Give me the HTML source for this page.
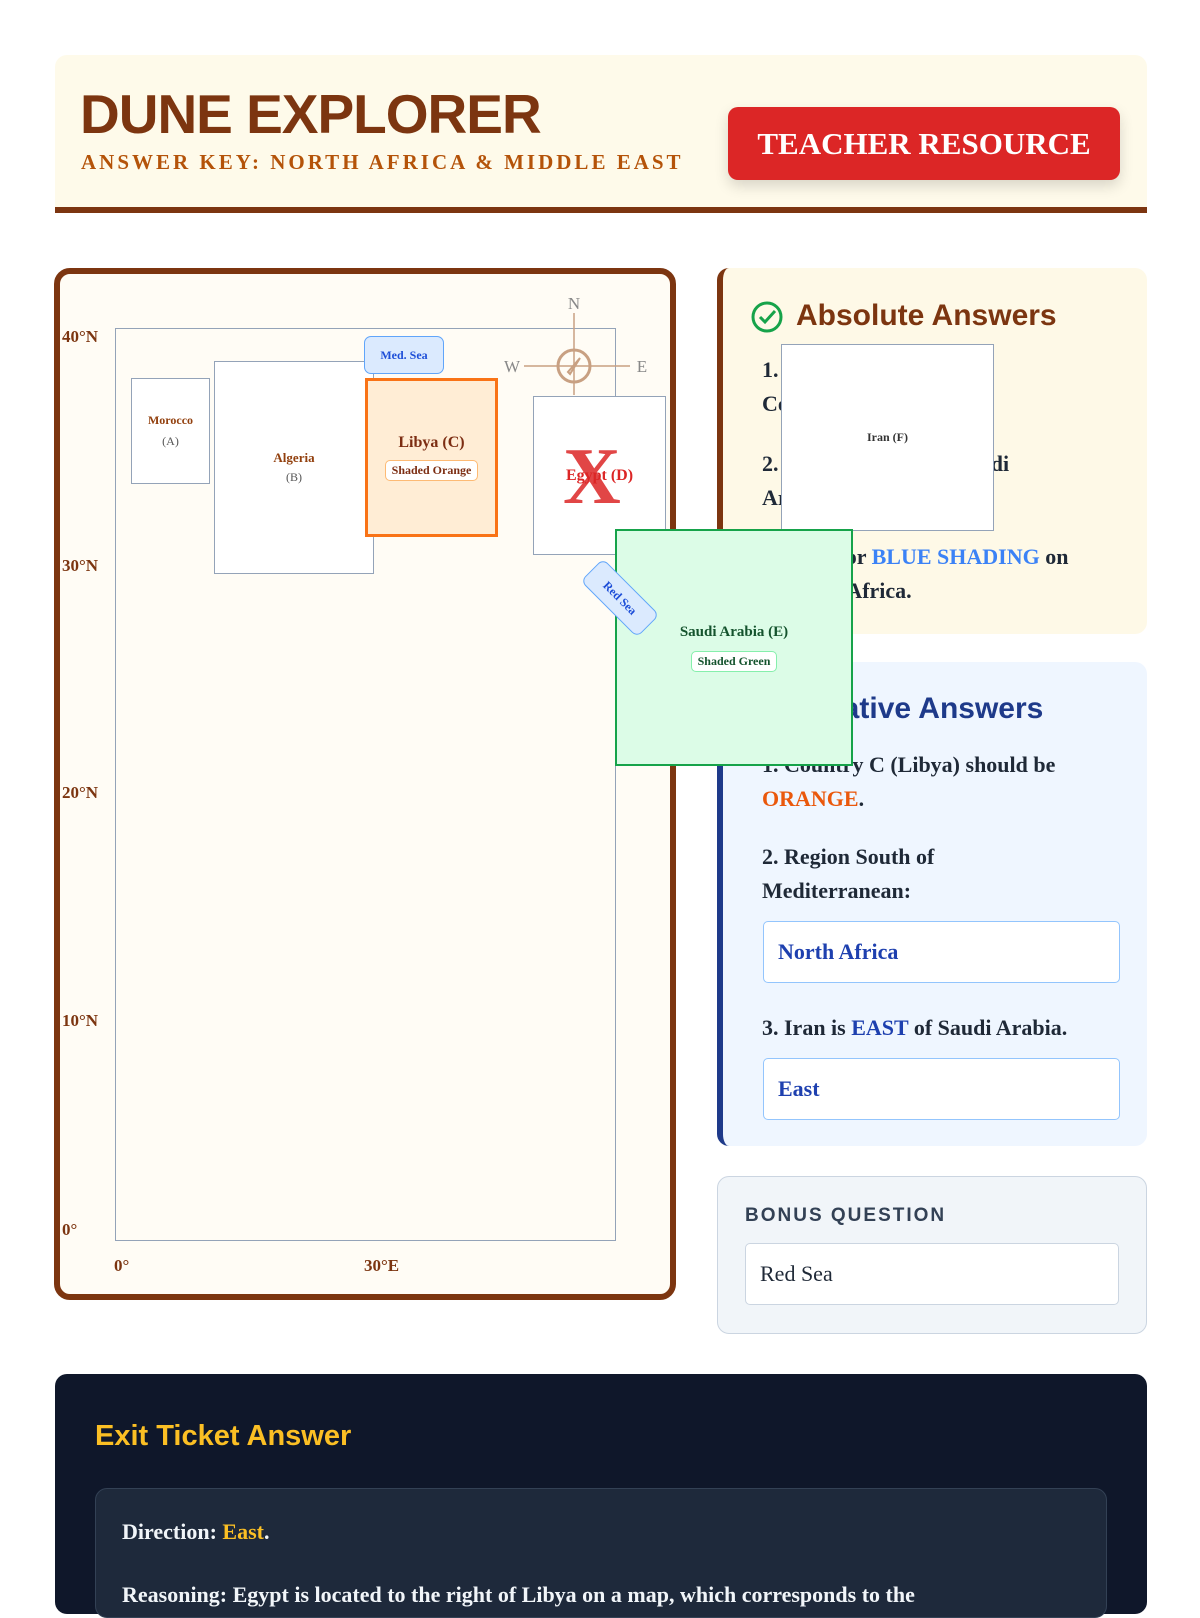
<!DOCTYPE html>
<html><head><meta charset="utf-8"><style>
*{box-sizing:border-box;margin:0;padding:0}
body{width:1200px;height:1600px;overflow:hidden;background:#fff;position:relative;font-family:"Liberation Serif",serif}
.a{position:absolute}
.sans{font-family:"Liberation Sans",sans-serif}
.box{position:absolute;border:1.5px solid #94a3b8;background:#fff;text-align:center;display:flex;flex-direction:column;justify-content:center;align-items:center}
.lat{position:absolute;left:62px;font-size:17px;font-weight:bold;color:#7c3510}
.item{position:absolute;left:762px;font-size:22px;font-weight:bold;color:#1f2937;line-height:34px;width:350px}
.inp{position:absolute;background:#fff;border:1.5px solid #93c5fd;border-radius:5px;font-size:22px;font-weight:bold;color:#1e40af;padding-left:14px;display:flex;align-items:center}
</style></head><body>
<div class="a" style="left:55px;top:55px;width:1092px;height:158px;background:#fefaea;border-radius:12px 12px 0 0;border-bottom:6px solid #7c3510"></div>
<div class="a sans" style="left:80px;top:82px;font-size:55px;font-weight:900;color:#7c3510;letter-spacing:-1px">DUNE EXPLORER</div>
<div class="a" style="left:81px;top:150px;font-size:21px;font-weight:bold;color:#b45309;letter-spacing:3px">ANSWER KEY: NORTH AFRICA &amp; MIDDLE EAST</div>
<div class="a" style="left:728px;top:107px;width:392px;height:73px;background:#dc2626;border-radius:10px;box-shadow:0 6px 14px rgba(0,0,0,.15);color:#fff;font-size:31px;font-weight:bold;display:flex;align-items:center;justify-content:center">TEACHER RESOURCE</div>

<div class="a" style="left:54px;top:268px;width:622px;height:1032px;border:6px solid #7c3510;border-radius:16px;background:#fffcf5"></div>
<div class="a" style="left:115px;top:328px;width:501px;height:913px;border:1.5px solid #94a3b8"></div>
<div class="lat" style="top:327px">40°N</div>
<div class="lat" style="top:556px">30°N</div>
<div class="lat" style="top:783px">20°N</div>
<div class="lat" style="top:1011px">10°N</div>
<div class="lat" style="top:1220px">0°</div>
<div class="lat" style="left:114px;top:1256px">0°</div>
<div class="lat" style="left:364px;top:1256px">30°E</div>

<div class="box" style="left:131px;top:378px;width:79px;height:106px;font-size:12px;color:#92400e;font-weight:bold">Morocco<span style="color:#555;font-weight:normal;margin-top:6px">(A)</span></div>
<div class="box" style="left:214px;top:361px;width:160px;height:213px;font-size:13px;color:#92400e;font-weight:bold">Algeria<span style="color:#555;font-weight:normal;margin-top:4px;font-size:12px">(B)</span></div>
<div class="box" style="left:365px;top:378px;width:133px;height:159px;border:3px solid #f97316;background:#ffedd5;font-size:16px;font-weight:bold;color:#7c2d12">Libya (C)<span style="margin-top:8px;font-size:12px;background:#fff;border:1px solid #fdba74;border-radius:5px;padding:2px 6px;color:#7c2d12">Shaded Orange</span></div>
<div class="a" style="left:364px;top:336px;width:80px;height:38px;background:#dbeafe;border:1.5px solid #60a5fa;border-radius:7px;color:#1d4ed8;font-size:12px;font-weight:bold;display:flex;align-items:center;justify-content:center">Med. Sea</div>
<div class="box" style="left:533px;top:396px;width:133px;height:159px;font-size:16px;font-weight:bold;color:#dc2626">Egypt (D)</div>
<div class="a" style="left:563px;top:432px;font-size:80px;font-weight:bold;color:#dc2626;opacity:.85;line-height:90px">X</div>
<svg class="a" style="left:500px;top:295px" width="160" height="120">
<line x1="74" y1="18" x2="74" y2="100" stroke="#c8a082" stroke-width="1.5"/>
<line x1="24" y1="71" x2="130" y2="71" stroke="#c8a082" stroke-width="1.5"/>
<circle cx="74" cy="71" r="16" fill="none" stroke="#c8a082" stroke-width="3"/>
<path d="M80 63 L70 79 L68 77 Z" fill="none" stroke="#c8a082" stroke-width="2"/>
<text x="74" y="14" font-size="17" fill="#888" text-anchor="middle" font-family="Liberation Serif">N</text>
<text x="12" y="77" font-size="17" fill="#888" text-anchor="middle" font-family="Liberation Serif">W</text>
<text x="142" y="77" font-size="17" fill="#888" text-anchor="middle" font-family="Liberation Serif">E</text>
</svg>

<div class="a" style="left:717px;top:268px;width:430px;height:366px;background:#fef9e7;border-left:6px solid #7c3510;border-radius:12px"></div>
<svg class="a" style="left:750px;top:300px" width="34" height="34"><circle cx="17" cy="17" r="14" fill="none" stroke="#16a34a" stroke-width="3"/><path d="M10 17 L15 22 L25 11" fill="none" stroke="#16a34a" stroke-width="3"/></svg>
<div class="a sans" style="left:796px;top:299px;font-size:30px;font-weight:bold;color:#7c3510">Absolute Answers</div>
<div class="item" style="top:353px;width:270px">1. Mark a red <span style="color:#dc2626">'X'</span> on Country D (Egypt).</div>
<div class="item" style="top:447px;width:320px">2. Color Country E (Saudi Arabia) <span style="color:#16a34a">GREEN</span>.</div>
<div class="item" style="top:540px;width:360px">3. Look for <span style="color:#3b82f6">BLUE SHADING</span> on North of Africa.</div>

<div class="a" style="left:717px;top:662px;width:430px;height:484px;background:#eff6ff;border-left:6px solid #1e3a8a;border-radius:12px"></div>
<div class="a sans" style="left:796px;top:692px;font-size:30px;font-weight:bold;color:#1e3a8a">Relative Answers</div>
<div class="item" style="top:748px">1. Country C (Libya) should be <span style="color:#ea580c">ORANGE</span>.</div>
<div class="item" style="top:840px;width:280px">2. Region South of Mediterranean:</div>
<div class="inp" style="left:763px;top:921px;width:357px;height:62px">North Africa</div>
<div class="item" style="top:1011px">3. Iran is <span style="color:#1e40af">EAST</span> of Saudi Arabia.</div>
<div class="inp" style="left:763px;top:1058px;width:357px;height:62px">East</div>

<div class="box" style="left:781px;top:344px;width:213px;height:187px;font-size:12px;font-weight:bold;color:#333">Iran (F)</div>
<div class="box" style="left:615px;top:529px;width:238px;height:237px;border:2.5px solid #16a34a;background:#dcfce7;font-size:15px;font-weight:bold;color:#14532d">Saudi Arabia (E)<span style="margin-top:10px;font-size:12px;background:#fff;border:1px solid #86efac;border-radius:5px;padding:2px 6px">Shaded Green</span></div>
<div class="a" style="left:580px;top:582px;width:80px;height:32px;background:#dbeafe;border:1.5px solid #60a5fa;border-radius:7px;color:#1d4ed8;font-size:12px;font-weight:bold;display:flex;align-items:center;justify-content:center;transform:rotate(45deg)">Red Sea</div>

<div class="a" style="left:717px;top:1176px;width:430px;height:158px;background:#f1f5f9;border:1.5px solid #cbd5e1;border-radius:12px"></div>
<div class="a sans" style="left:745px;top:1205px;font-size:19px;font-weight:bold;color:#334155;letter-spacing:2px">BONUS QUESTION</div>
<div class="inp" style="left:745px;top:1243px;width:374px;height:62px;border-color:#cbd5e1;color:#1f2937;font-weight:normal">Red Sea</div>

<div class="a" style="left:55px;top:1374px;width:1092px;height:240px;background:#0f172a;border-radius:12px"></div>
<div class="a sans" style="left:95px;top:1420px;font-size:29px;font-weight:bold;color:#fbbf24">Exit Ticket Answer</div>
<div class="a" style="left:95px;top:1488px;width:1012px;height:130px;background:#1e293b;border:1px solid #334155;border-radius:12px"></div>
<div class="a" style="left:122px;top:1519px;font-size:22px;font-weight:bold;color:#f1f5f9">Direction: <span style="color:#fbbf24">East</span>.</div>
<div class="a" style="left:122px;top:1582px;font-size:22px;font-weight:bold;color:#f1f5f9;white-space:nowrap">Reasoning: Egypt is located to the right of Libya on a map, which corresponds to the</div>
</body></html>
